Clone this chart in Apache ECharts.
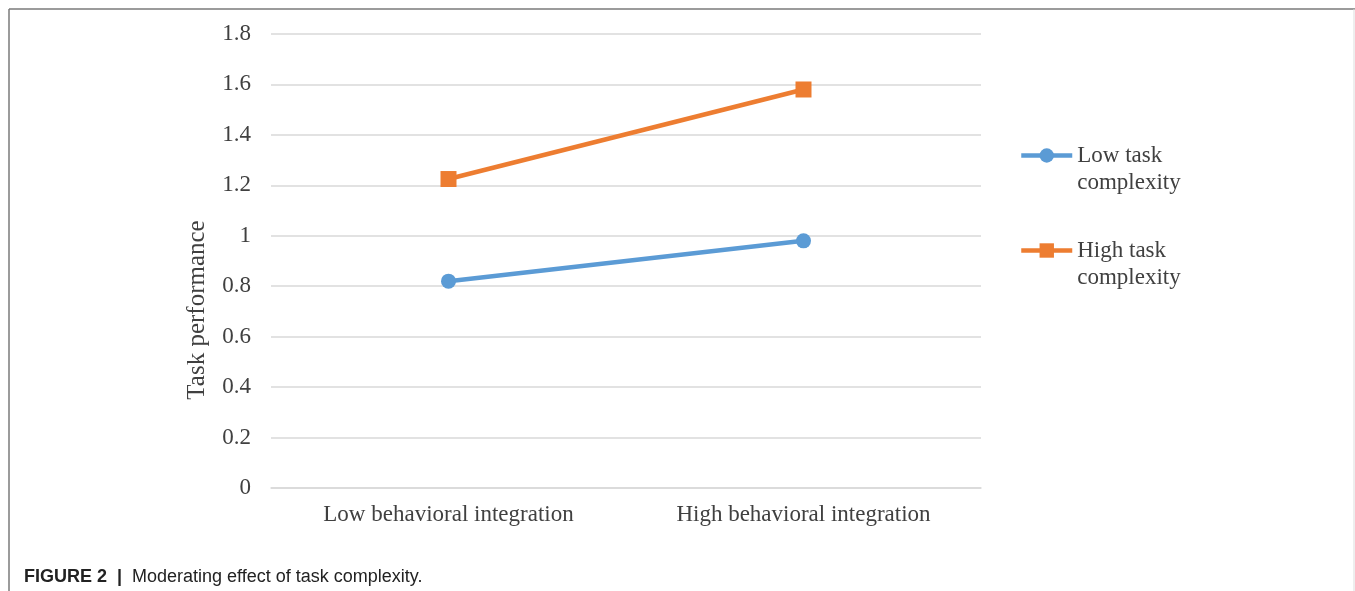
<!DOCTYPE html>
<html>
<head>
<meta charset="utf-8">
<script src="https://cdn.jsdelivr.net/npm/echarts@6/dist/echarts.min.js"></script>
<style>
  html, body { margin: 0; padding: 0; background: #fff; }
  #chart { width: 1355px; height: 591px; }
</style>
</head>
<body>
<div id="chart"></div>
<script>
// Chart data
const categories = ['Low behavioral integration', 'High behavioral integration'];
const lowComplexity = [0.82, 0.98];
const highComplexity = [1.225, 1.58];
const seriesNames = ['Low task\ncomplexity', 'High task\ncomplexity'];
const yTicks = [0, 0.2, 0.4, 0.6, 0.8, 1, 1.2, 1.4, 1.6, 1.8];

const serif = '"Liberation Serif", "Times New Roman", serif';
const sans = '"Liberation Sans", Arial, sans-serif';
const chart = echarts.init(document.getElementById('chart'));

chart.setOption({
  animation: false,
  backgroundColor: '#fff',
  grid: { left: 271, right: 374, top: 34, bottom: 103 },
  legend: {
    orient: 'vertical',
    left: 1019,
    top: 115,
    padding: 0,
    itemWidth: 51,
    itemHeight: 18,
    itemGap: 14,
    data: seriesNames,
    lineStyle: { width: 4.5 },
    // a blank leading line keeps the first text line level with the icon
    formatter: name => ' \n' + name,
    textStyle: {
      fontFamily: serif,
      fontSize: 23,
      color: '#404040',
      lineHeight: 27
    }
  },
  xAxis: {
    type: 'category',
    data: categories,
    boundaryGap: true,
    axisLine: { lineStyle: { color: '#d9d9d9', width: 1.5 } },
    axisTick: { show: false },
    axisLabel: { fontFamily: serif, fontSize: 23, color: '#404040', margin: 15 }
  },
  yAxis: {
    type: 'value',
    min: yTicks[0],
    max: yTicks[yTicks.length - 1],
    interval: 0.2,
    axisLine: { show: false },
    axisTick: { show: false },
    splitLine: { lineStyle: { color: '#d9d9d9', width: 1.5 } },
    axisLabel: {
      fontFamily: serif, fontSize: 23, color: '#404040', margin: 20,
      formatter: v => String(Math.round(v * 10) / 10)
    }
  },
  series: [
    {
      name: seriesNames[0],
      type: 'line',
      data: lowComplexity,
      symbol: 'circle',
      symbolSize: 15,
      itemStyle: { color: '#5B9BD5' },
      lineStyle: { color: '#5B9BD5', width: 4.5 }
    },
    {
      name: seriesNames[1],
      type: 'line',
      data: highComplexity,
      symbol: 'rect',
      symbolSize: 16,
      itemStyle: { color: '#ED7D31' },
      lineStyle: { color: '#ED7D31', width: 4.5 }
    }
  ],
  graphic: [
    // frame around the figure
    { type: 'line', shape: { x1: 9, y1: 9, x2: 1355, y2: 9 }, style: { stroke: '#7a7a7a', lineWidth: 1.5 } },
    { type: 'line', shape: { x1: 9, y1: 9, x2: 9, y2: 591 }, style: { stroke: '#7a7a7a', lineWidth: 1.5 } },
    { type: 'line', shape: { x1: 1354, y1: 9, x2: 1354, y2: 591 }, style: { stroke: '#dddddd', lineWidth: 1 } },
    // y axis title
    {
      type: 'text', x: 197, y: 310, rotation: Math.PI / 2,
      style: {
        text: 'Task performance', fontFamily: serif, fontSize: 25, fill: '#404040',
        align: 'center', verticalAlign: 'middle'
      }
    },
    // caption
    {
      type: 'text', x: 24, y: 577,
      style: {
        text: '{b|FIGURE 2}  {b||}  Moderating effect of task complexity.',
        fontFamily: sans, fontSize: 18, fill: '#222', verticalAlign: 'middle',
        rich: { b: { fontWeight: 'bold', fontSize: 18, fill: '#222', fontFamily: sans } }
      }
    }
  ]
});
</script>
</body>
</html>
